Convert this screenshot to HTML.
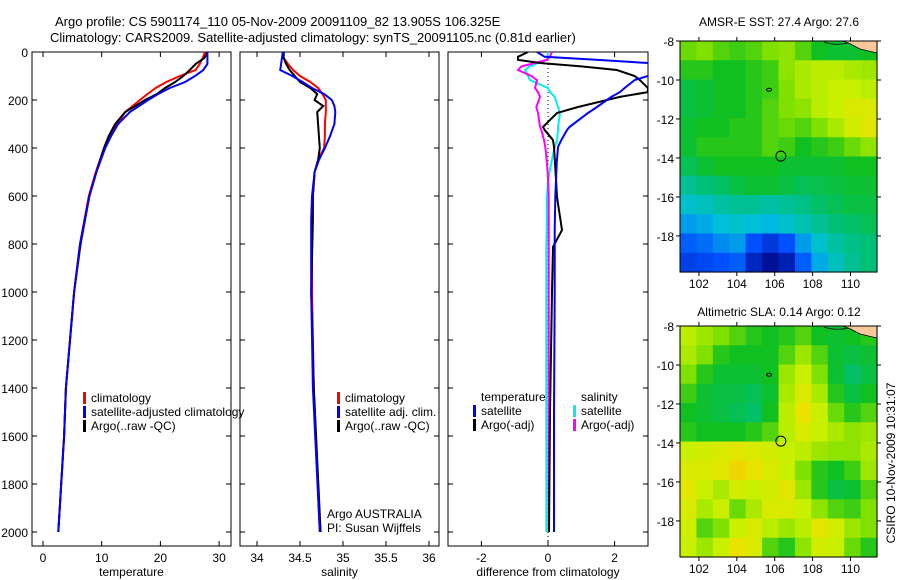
<!DOCTYPE html>
<html><head><meta charset="utf-8"><style>
html,body{margin:0;padding:0;background:#fff;}
svg{display:block;font-family:"Liberation Sans",sans-serif;}
text{fill:#000;font-size:12px;}
</style></head><body>
<svg id="fig" width="900" height="580" viewBox="0 0 900 580">
<text x="55" y="26" style="font-size:13px">Argo profile: CS 5901174_110 05-Nov-2009 20091109_82 13.905S 106.325E</text>
<text x="50" y="42" style="font-size:13px">Climatology: CARS2009. Satellite-adjusted climatology: synTS_20091105.nc (0.81d earlier)</text>
<g id="panels"></g>
<text x="779" y="26" text-anchor="middle">AMSR-E SST: 27.4 Argo: 27.6</text>
<text x="779" y="316" text-anchor="middle">Altimetric SLA: 0.14 Argo: 0.12</text>
<text x="0" y="0" transform="translate(895,463) rotate(-90)" text-anchor="middle">CSIRO 10-Nov-2009 10:31:07</text>
</svg>
<script>
// ---------- profile data ----------
const tempDepths=[0,25,50,75,100,125,150,175,200,250,300,350,400,500,600,800,1000,1200,1400,1600,1800,2000];
const tempClim =[27.6,27.2,26.7,26.0,23.3,21.0,19.2,17.8,16.5,14.0,12.6,11.4,10.4,9.0,7.8,6.3,5.3,4.6,3.9,3.6,3.1,2.6];
const tempSat  =[28.0,28.0,28.0,27.3,25.9,24.2,21.6,19.6,17.9,14.8,12.8,11.6,10.6,9.1,7.9,6.3,5.3,4.6,3.9,3.6,3.1,2.6];
const tempArgo =[28.0,27.5,26.0,25.0,23.9,22.5,20.8,19.4,17.4,14.0,12.3,11.2,10.4,9.1,7.9,6.4,5.3,4.6,3.9,3.6,3.1,2.6];
const salDepths=[0,25,50,75,100,125,150,175,200,225,250,300,350,400,450,500,600,700,1000,1400,2000];
const salClim =[34.30,34.31,34.36,34.42,34.50,34.62,34.71,34.76,34.80,34.80,34.80,34.79,34.79,34.78,34.71,34.67,34.65,34.64,34.64,34.66,34.73];
const salSat  =[34.30,34.29,34.28,34.27,34.41,34.53,34.64,34.78,34.87,34.90,34.91,34.90,34.85,34.79,34.72,34.67,34.64,34.63,34.63,34.65,34.73];
const salArgo =[34.31,34.31,34.34,34.38,34.44,34.50,34.62,34.70,34.67,34.77,34.70,34.71,34.72,34.73,34.71,34.67,34.65,34.65,34.63,34.66,34.74];
const diffDepths=[0,20,33,46,60,75,100,117,150,167,187,229,254,312,325,367,396,463,533,604,742,812,1000,1500,2000];
const diffTempSat =[-0.33,-0.1,1.5,3.0,3.3,3.3,3.0,2.6,2.3,2.16,1.9,1.47,1.2,0.65,0.57,0.4,0.3,0.26,0.24,0.22,0.2,0.2,0.2,0.18,0.18];
const diffTempArgo=[-0.6,-0.9,-0.9,-0.24,1.0,2.07,2.6,2.76,3.0,3.0,2.16,0.9,0.27,-0.15,-0.1,0.15,0.18,0.21,0.24,0.27,0.42,0.15,0.12,0.06,0.03];
const diffSalSat  =[0,-0.02,-0.03,-0.3,-0.55,-0.69,-0.6,-0.54,0.0,0.06,0.2,0.3,0.36,0.3,0.3,0.27,0.2,0.1,0.0,-0.03,-0.04,-0.05,-0.05,-0.05,-0.05];
const diffSalArgo =[0.12,0.05,-0.03,-0.4,-0.8,-0.9,-0.5,-0.33,-0.39,-0.3,-0.24,-0.35,-0.3,-0.24,-0.2,-0.12,-0.08,-0.03,0.0,0.02,0.02,0.02,0.02,0.02,0.02];
const tempTicks=[0,10,20,30];
const salTicks=[34,34.5,35,35.5,36];
const diffTicks=[-2,0,2];
const depthTicks=[0,200,400,600,800,1000,1200,1400,1600,1800,2000];
// ---------- map data (12 cols lon 101..111.4, 12 rows lat -8..-19.85), normalised 0..1 ----------
const sstGrid=[
[.68,.70,.66,.64,.66,.70,.72,.66,.60,.58,.58,.60],
[.62,.62,.60,.60,.62,.64,.72,.76,.78,.78,.76,.74],
[.56,.58,.60,.60,.62,.64,.70,.76,.78,.80,.80,.78],
[.56,.58,.60,.60,.62,.66,.70,.72,.78,.80,.84,.84],
[.58,.60,.60,.62,.62,.66,.68,.66,.70,.76,.82,.86],
[.58,.62,.62,.62,.62,.66,.64,.60,.62,.64,.68,.72],
[.54,.58,.60,.60,.60,.60,.58,.58,.58,.58,.60,.60],
[.46,.50,.52,.56,.58,.58,.56,.54,.55,.56,.58,.58],
[.38,.40,.44,.46,.46,.44,.46,.48,.52,.54,.56,.56],
[.30,.32,.36,.38,.36,.34,.38,.42,.46,.50,.52,.54],
[.22,.24,.28,.30,.20,.14,.20,.30,.38,.44,.48,.50],
[.16,.18,.20,.22,.10,.04,.08,.22,.32,.40,.46,.50]];
const slaGrid=[
[.78,.74,.70,.66,.62,.60,.62,.66,.60,.58,.60,.62],
[.76,.70,.62,.60,.60,.60,.66,.74,.66,.58,.56,.58],
[.70,.62,.58,.58,.58,.60,.74,.80,.70,.58,.52,.56],
[.64,.58,.56,.56,.54,.58,.76,.84,.76,.62,.56,.60],
[.60,.58,.56,.54,.52,.60,.78,.88,.80,.68,.62,.66],
[.62,.60,.60,.60,.62,.66,.78,.84,.80,.76,.72,.74],
[.80,.82,.84,.86,.84,.82,.80,.78,.74,.72,.72,.76],
[.84,.84,.86,.92,.88,.84,.80,.70,.62,.60,.64,.74],
[.86,.80,.76,.82,.80,.82,.86,.74,.62,.56,.58,.66],
[.84,.76,.80,.68,.76,.84,.84,.80,.72,.66,.64,.70],
[.82,.66,.70,.80,.84,.78,.74,.78,.86,.82,.74,.70],
[.80,.74,.80,.88,.84,.66,.62,.72,.82,.80,.68,.62]];
const lonTicks=[102,104,106,108,110];
const latTicks=[-8,-10,-12,-14,-16,-18];
const argoLon=106.325, argoLat=-13.905;

const NS='http://www.w3.org/2000/svg';
const root=document.getElementById('panels');
function mk(tag,attrs,parent){const e=document.createElementNS(NS,tag);for(const k in attrs)e.setAttribute(k,attrs[k]);(parent||root).appendChild(e);return e;}
const yD=d=>52+d*0.24;

function panel(x0,x1,fx,ticks,fmt,label,name){
  const g=mk('g',{});
  
  
  const fr=mk('rect',{x:x0,y:52,width:x1-x0,height:494,fill:'none',stroke:'#000','stroke-width':1},g);
  
  
  ticks.forEach(t=>{const x=fx(t);
    mk('line',{x1:x,x2:x,y1:546,y2:541,stroke:'#000'},g);
    mk('line',{x1:x,x2:x,y1:52,y2:57,stroke:'#000'},g);
    const tx=mk('text',{x:x,y:562,'text-anchor':'middle'},g);tx.textContent=fmt(t);
    
    
  });
  depthTicks.forEach(d=>{const y=yD(d);
    mk('line',{x1:x0,x2:x0+5,y1:y,y2:y,stroke:'#000'},g);
    mk('line',{x1:x1-5,x2:x1,y1:y,y2:y,stroke:'#000'},g);
  });
  const lb=mk('text',{x:(x0+x1)/2,y:576,'text-anchor':'middle'},g);lb.textContent=label;
  
  
  return g;
}
function series(g,fx,depths,vals,color,name,clip){
  const pts=depths.map((d,i)=>fx(vals[i]).toFixed(1)+','+yD(d).toFixed(1)).join(' ');
  const p=mk('polyline',{points:pts,fill:'none',stroke:color,'stroke-width':2,'clip-path':clip||''},g);
  
  
}
function legend(g,x,y,items,name){
  items.forEach((it,i)=>{
    if(it[1]){const m=mk('rect',{x:x,y:y+i*14-10,width:3,height:12,fill:it[1]},g);}
    const t=mk('text',{x:x+8,y:y+i*14},g);t.textContent=it[0];
    
    
  });
}
const defs=mk('defs',{});
const cp=mk('clipPath',{id:'c3'},defs);mk('rect',{x:448,y:52,width:200,height:494},cp);

// temperature
const fT=v=>43+v*5.87;
const g1=panel(32,231,fT,tempTicks,t=>t,'temperature','temperature');
depthTicks.forEach(d=>{const t=mk('text',{x:28,y:yD(d)+5,'text-anchor':'end'},g1);t.textContent=d;
  
  });
series(g1,fT,tempDepths,tempClim,'#f00','temp-climatology-line');
series(g1,fT,tempDepths,tempArgo,'#000','temp-argo-line');
series(g1,fT,tempDepths,tempSat,'#00f','temp-satellite-line');
legend(g1,83,402,[['climatology','#f00'],['satellite-adjusted climatology','#00f'],['Argo(..raw -QC)','#000']],'temp-legend');

// salinity
const fS=v=>257+(v-34)*86;
const g2=panel(240,439,fS,salTicks,t=>t,'salinity','salinity');
series(g2,fS,salDepths,salClim,'#f00','sal-climatology-line');
series(g2,fS,salDepths,salArgo,'#000','sal-argo-line');
series(g2,fS,salDepths,salSat,'#00f','sal-satellite-line');
legend(g2,337,402,[['climatology','#f00'],['satellite adj. clim.','#00f'],['Argo(..raw -QC)','#000']],'sal-legend');
const a1=mk('text',{x:327,y:518},g2);a1.textContent='Argo AUSTRALIA';

const a2=mk('text',{x:327,y:532},g2);a2.textContent='PI: Susan Wijffels';


// difference
const fD=v=>548+v*33.3;
const g3=panel(448,648,fD,diffTicks,t=>t,'difference from climatology','difference');
mk('line',{x1:fD(0),x2:fD(0),y1:52,y2:546,stroke:'#000','stroke-dasharray':'1,3'},g3);
series(g3,fD,diffDepths,diffSalSat,'#0ee','diff-sal-satellite-line','url(#c3)');
series(g3,fD,diffDepths,diffSalArgo,'#f0f','diff-sal-argo-line','url(#c3)');
series(g3,fD,diffDepths,diffTempArgo,'#000','diff-temp-argo-line','url(#c3)');
series(g3,fD,diffDepths,diffTempSat,'#00f','diff-temp-satellite-line','url(#c3)');
legend(g3,473,401,[['temperature',null],['satellite','#00f'],['Argo(-adj)','#000']],'diff-temp-legend');
legend(g3,573,401,[['salinity',null],['satellite','#0ee'],['Argo(-adj)','#f0f']],'diff-sal-legend');

// maps
const stops=[[0,[0,0,128]],[0.2,[0,80,255]],[0.35,[0,192,224]],[0.5,[0,192,120]],[0.6,[16,192,32]],[0.7,[128,224,0]],[0.8,[200,240,0]],[0.9,[240,224,0]],[1,[240,176,0]]];
function cmap(v){for(let i=1;i<stops.length;i++){if(v<=stops[i][0]){const a=stops[i-1],b=stops[i];const f=(v-a[0])/(b[0]-a[0]);
  const c=a[1].map((x,k)=>Math.round(x+(b[1][k]-x)*f));return 'rgb('+c.join(',')+')';}}return 'rgb(240,176,0)';}
function map(top,bot,grid,name){
  const X0=680,X1=877,lon0=101,lon1=111.4,lat0=-8,lat1=-19.85;
  const fx=l=>X0+(l-lon0)/(lon1-lon0)*(X1-X0);
  const fy=l=>top+(l-lat0)/(lat1-lat0)*(bot-top);
  const g=mk('g',{});
  
  
  const nr=grid.length,nc=grid[0].length;
  const cw=(X1-X0)/nc,ch=(bot-top)/nr;
  grid.forEach((row,r)=>row.forEach((v,c)=>{
    const cell=mk('rect',{x:(X0+c*cw).toFixed(2),y:(top+r*ch).toFixed(2),width:(cw+0.6).toFixed(2),height:(ch+0.6).toFixed(2),fill:cmap(v)},g);
    
    
  }));
  // coast top-right
  mk('path',{d:`M${fx(109.6)} ${top} L${X1} ${top} L${X1} ${top+12} L${fx(110.5)} ${top+8} L${fx(110)} ${top+3} Z`,fill:'#f8c89a',stroke:'#000','stroke-width':0.8},g);
  mk('path',{d:`M${fx(108.6)} ${top+1} Q${fx(109.2)} ${top+5} ${fx(109.9)} ${top+2}`,fill:'none',stroke:'#000','stroke-width':0.8},g);
  mk('ellipse',{cx:fx(105.7),cy:fy(-10.5),rx:2.5,ry:1.5,fill:'none',stroke:'#000','stroke-width':1},g);
  const ci=mk('circle',{cx:fx(argoLon),cy:fy(argoLat),r:5,fill:'none',stroke:'#000','stroke-width':1},g);
  
  
  mk('rect',{x:X0,y:top,width:X1-X0,height:bot-top,fill:'none',stroke:'#000'},g);
  lonTicks.forEach(l=>{const x=fx(l);
    mk('line',{x1:x,x2:x,y1:bot,y2:bot+4,stroke:'#000'},g);
    mk('line',{x1:x,x2:x,y1:top,y2:top-4,stroke:'#000'},g);
    const t=mk('text',{x:x,y:bot+16,'text-anchor':'middle'},g);t.textContent=l;
    });
  latTicks.forEach(l=>{const y=fy(l);
    mk('line',{x1:X0,x2:X0-4,y1:y,y2:y,stroke:'#000'},g);
    mk('line',{x1:X1,x2:X1+4,y1:y,y2:y,stroke:'#000'},g);
    const t=mk('text',{x:X0-6,y:y+5,'text-anchor':'end'},g);t.textContent=l;
    });
}
map(41,272,sstGrid,'sst');
map(326,557,slaGrid,'sla');
</script>
</body></html>
